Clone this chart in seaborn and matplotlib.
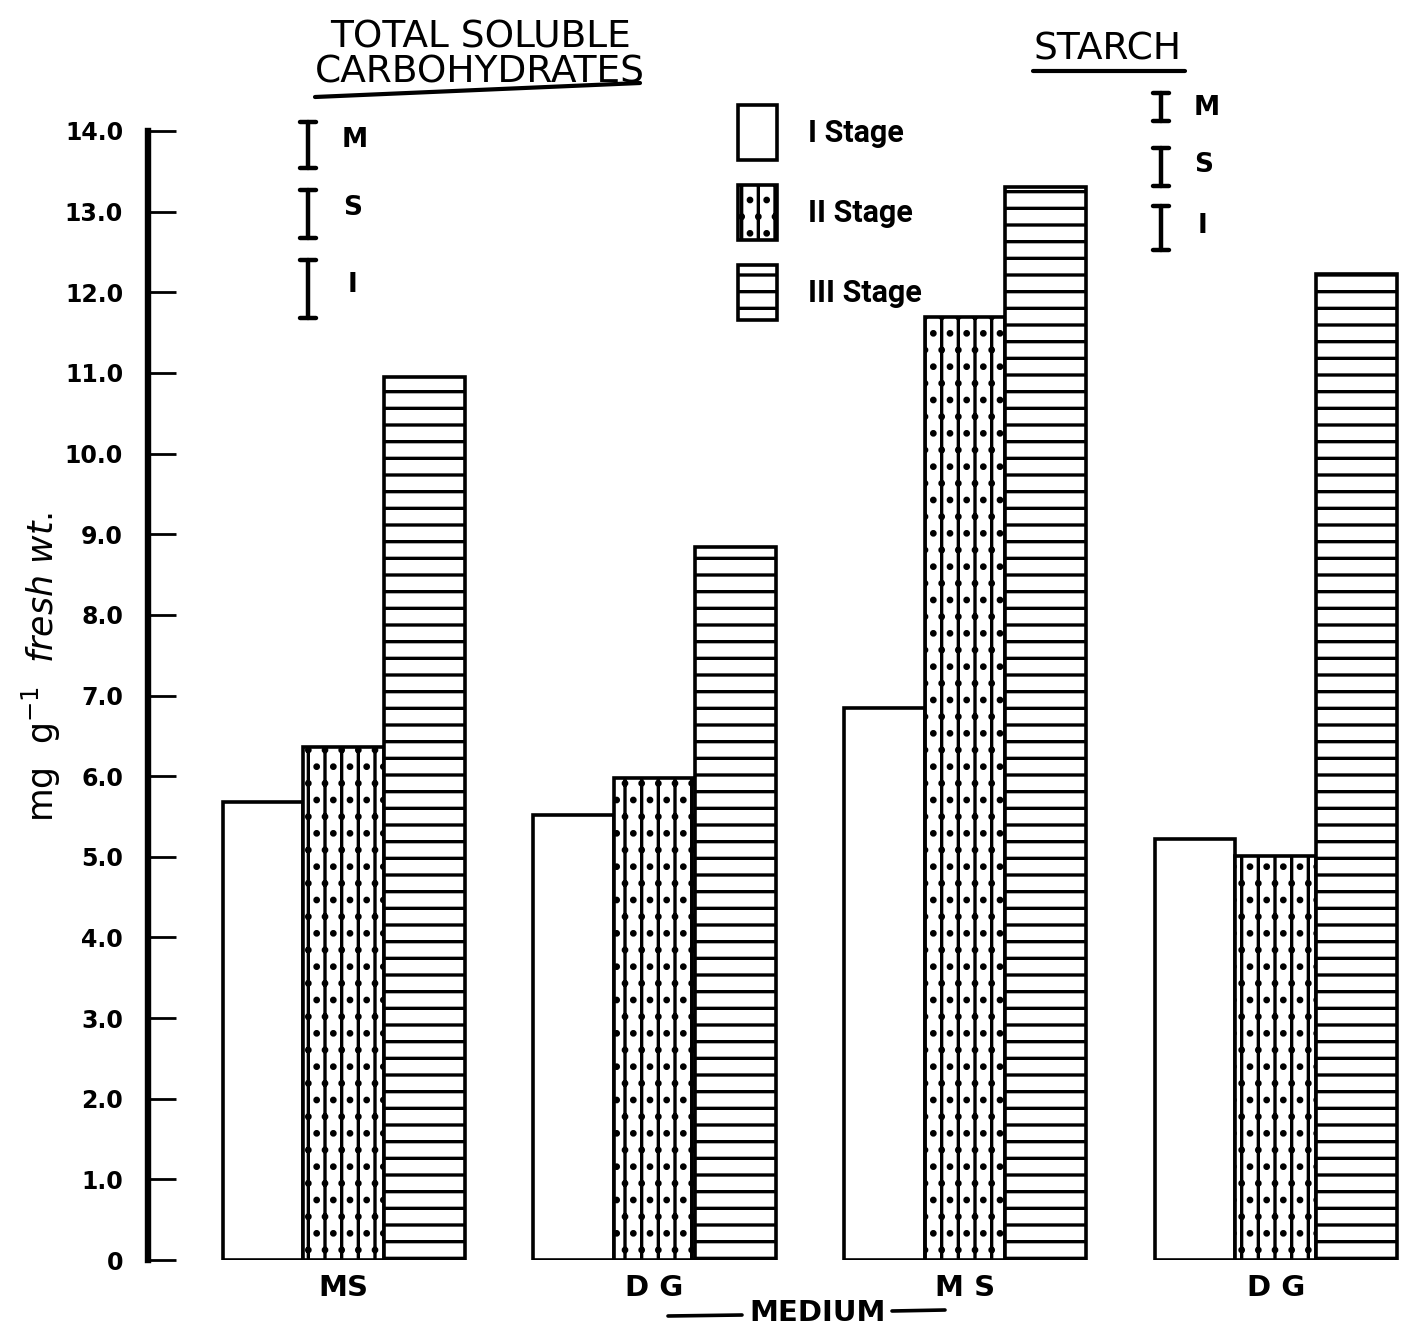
import numpy as np
import pandas as pd
import matplotlib.pyplot as plt
import seaborn as sns
from matplotlib.lines import Line2D

# values (mg g-1 fresh wt.)
groups = ['TSC MS', 'TSC DG', 'STARCH MS', 'STARCH DG']
group_labels = ['MS', 'D G', 'M S', 'D G']
stages = ['I Stage', 'II Stage', 'III Stage']
stage_1 = [5.68, 5.52, 6.85, 5.22]
stage_2 = [6.36, 5.98, 11.69, 5.01]
stage_3 = [10.95, 8.84, 13.31, 12.23]
y_ticks = [0, 1, 2, 3, 4, 5, 6, 7, 8, 9, 10, 11, 12, 13, 14]
y_tick_labels = ['0', '1.0', '2.0', '3.0', '4.0', '5.0', '6.0', '7.0',
                 '8.0', '9.0', '10.0', '11.0', '12.0', '13.0', '14.0']
hatches = ['', '||..', '--']

df = pd.DataFrame({'group': groups * 3,
                   'stage': [s for s in stages for _ in groups],
                   'value': stage_1 + stage_2 + stage_3})

sns.set_theme(style='white', rc={'text.color': 'black', 'axes.labelcolor': 'black',
                                 'xtick.color': 'black', 'ytick.color': 'black'})
plt.rcParams['font.family'] = ['DejaVu Sans']
plt.rcParams['hatch.linewidth'] = 1.2

W, H = 1404, 1336
fig = plt.figure(figsize=(W / 200, H / 200), dpi=200)
ax = fig.add_axes([148 / W, 1 - 1260 / H, 1252 / W, 1129 / H])

sns.barplot(data=df, x='group', y='value', hue='stage', order=groups, hue_order=stages,
            palette=['white'] * 3, saturation=1, edgecolor='black', linewidth=1.3,
            width=0.78, errorbar=None, legend=False, ax=ax)

for cont, h in zip(ax.containers, hatches):
    for p in cont:
        p.set_hatch(h)

ax.set_xlim(-0.63, 3.4)
ax.set_ylim(0, 14)
for s in ['top', 'right', 'bottom']:
    ax.spines[s].set_visible(False)
ax.spines['left'].set_linewidth(2.3)
ax.spines['left'].set_color('black')

ax.set_yticks(y_ticks, y_tick_labels)
ax.tick_params(axis='y', direction='in', length=10, width=1.0, color='black',
               pad=9, labelsize=8.5, left=True)
for t in ax.get_yticklabels():
    t.set_fontweight('bold')
ax.set_xticks(range(len(groups)), group_labels)
ax.tick_params(axis='x', length=0, pad=5, labelsize=10.5)
for t in ax.get_xticklabels():
    t.set_fontweight('bold')

ax.set_xlabel('')
ax.set_ylabel(r'mg  g$^{-1}$  $\mathit{fresh\ wt.}$', fontsize=12.5)
ax.yaxis.set_label_coords(-0.068, 0.525)

ax.legend(handles=[c.patches[0] for c in ax.containers], labels=stages,
          loc='upper left', bbox_to_anchor=(0.471, 1.023), frameon=False,
          handlelength=1.3, handleheight=2.39, labelspacing=0.82, handletextpad=1.0,
          borderpad=0, borderaxespad=0,
          prop={'family': 'Roboto', 'weight': 'bold', 'size': 11})

# panel titles
fig.text(480 / W, 1 - 55 / H, 'TOTAL SOLUBLE\nCARBOHYDRATES', ha='center', va='center',
         fontsize=13.5, linespacing=0.95)
fig.text(1108 / W, 1 - 50 / H, 'STARCH', ha='center', va='center', fontsize=13.5)
fig.add_artist(Line2D([315 / W, 640 / W], [1 - 97 / H, 1 - 83 / H], color='black', lw=1.5))
fig.add_artist(Line2D([1033 / W, 1185 / W], [1 - 71 / H, 1 - 71 / H], color='black', lw=1.5))

# significance key (M, S, I)
keys = [(308, 122, 168, 355, 140, 'M'), (308, 190, 238, 353, 208, 'S'), (308, 260, 318, 352, 285, 'I'),
        (1161, 93, 121, 1207, 108, 'M'), (1161, 148, 186, 1204, 165, 'S'), (1161, 206, 250, 1203, 226, 'I')]
for x, yt, yb, tx, ty, lab in keys:
    ax.annotate('', xy=(x, H - yb), xytext=(x, H - yt), xycoords='figure pixels',
                arrowprops=dict(arrowstyle='|-|,widthA=0.25,widthB=0.25', lw=1.6,
                                color='black', shrinkA=0, shrinkB=0))
    fig.text(tx / W, 1 - ty / H, lab, ha='center', va='center', fontsize=9.5, fontweight='bold')

# axis title with its side rules
fig.text(818 / W, 1 - 1313 / H, 'MEDIUM', ha='center', va='center',
         fontsize=10.5, fontweight='bold')
fig.add_artist(Line2D([668 / W, 742 / W], [1 - 1316 / H, 1 - 1315 / H], color='black', lw=1.3))
fig.add_artist(Line2D([892 / W, 945 / W], [1 - 1311 / H, 1 - 1310 / H], color='black', lw=1.3))

fig.savefig('out.png', dpi=200, facecolor='white')
